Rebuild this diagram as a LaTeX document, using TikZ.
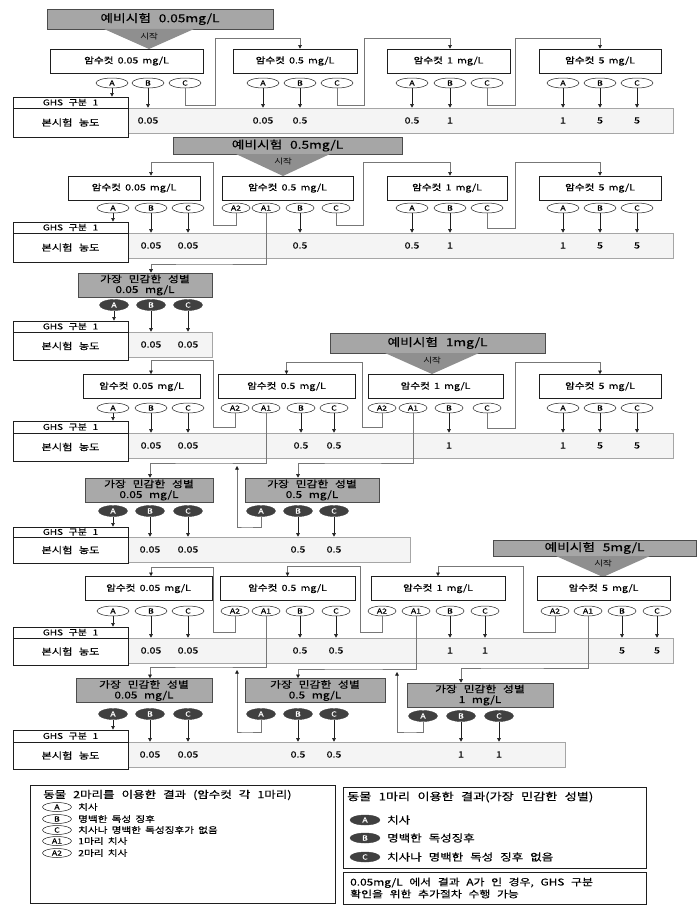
\documentclass[tikz,border=0pt]{standalone}
\usepackage{fontspec}
\setmainfont{Noto Sans CJK KR}[FakeStretch=1.25, WordSpace=2.5, FakeBold=0.3]
\newfontfamily\dosefont{Noto Sans CJK KR}[FakeStretch=1.25, WordSpace=1.75, FakeBold=0.3]
\usetikzlibrary{arrows.meta, shapes.geometric}
\definecolor{preGray}{HTML}{A6A6A6}
\definecolor{triGray}{HTML}{8F8F8F}
\definecolor{sensGray}{HTML}{A9A9A9}
\definecolor{stripFill}{HTML}{F4F4F4}
\definecolor{stripLine}{HTML}{A6A6A6}
\definecolor{jumpGray}{HTML}{777777}
\definecolor{ovalDark}{HTML}{404040}
\definecolor{lineInk}{HTML}{1E1E1E}
\newcommand{\fsz}[1]{\fontsize{#1}{#1}\selectfont}

\begin{document}
\begin{tikzpicture}[x=1pt, y=-1pt,
    pretest/.style={draw=black!70, fill=preGray, line width=0.6pt, inner sep=0pt, font=\fsz{11}},
    starttext/.style={inner sep=0pt, font=\fsz{7.5}, text=black!85},
    dosebox/.style={draw=lineInk, fill=white, line width=0.7pt, inner sep=0pt, minimum height=24pt, font=\dosefont\fsz{8.5}},
    ovalw/.style={ellipse, draw=lineInk, fill=white, line width=0.5pt, inner sep=0pt, minimum width=32pt, minimum height=10pt, font=\fsz{7}},
    ovaln/.style={ovalw, minimum width=28pt},
    ovald/.style={ellipse, draw=ovalDark, fill=ovalDark, text=white, inner sep=0pt, minimum width=29pt, minimum height=11pt, font=\fsz{7}},
    sensbox/.style={draw=black!70, fill=sensGray, line width=0.6pt, inner sep=0pt, minimum height=24pt, align=center, font=\fontsize{9.5}{10.5}\selectfont},
    ghsbox/.style={draw=lineInk, fill=white, line width=0.8pt, inner sep=0pt, minimum width=115pt},
    stripbox/.style={draw=stripLine, fill=stripFill, line width=0.6pt, inner sep=0pt, minimum height=25pt},
    valtext/.style={inner sep=0pt, font=\fsz{8.5}},
    arr/.style={draw=lineInk, line width=0.6pt, -{Triangle[length=3.6pt, width=3.6pt]}},
    jump/.style={draw=jumpGray, line width=0.5pt, -{Triangle[length=3.6pt, width=3.6pt, color=lineInk]}},
    legendbox/.style={draw=lineInk, line width=0.7pt, fill=white, inner sep=0pt},
    legendtext/.style={inner sep=0pt, anchor=west}
]
    \useasboundingbox (0,0) rectangle (696,907);

    % ---- pre-test 0.05 mg/L ----
    \node[pretest, minimum width=226pt, minimum height=20pt] (pre1) at (160,19) {예비시험 0.05mg/L};
    \fill[triGray] (104,29) -- (194,29) -- (149,49) -- cycle;
    \node[starttext] (start1) at (149,36) {시작};

    \node[stripbox, minimum width=545pt] (r1s) at (400.5,120.5) {};
    \node[ghsbox, minimum height=11pt, font=\fsz{8}] (r1gt) at (70.5,102.5) {GHS 구분 1};
    \node[ghsbox, minimum height=29pt, font=\fsz{9}] (r1gb) at (70.5,122.5) {본시험 농도};

    \node[dosebox, minimum width=153pt] (r1d1) at (126.5,61) {암수컷 0.05 mg/L};
    \node[dosebox, minimum width=124pt] (r1d2) at (295,61) {암수컷 0.5 mg/L};
    \node[dosebox, minimum width=123pt] (r1d3) at (448.5,61) {암수컷 1 mg/L};
    \node[dosebox, minimum width=122pt] (r1d4) at (600,61) {암수컷 5 mg/L};

    \node[ovalw] (r1d1a) at (112,83) {A};
    \node[ovalw] (r1d1b) at (148,83) {B};
    \node[ovalw] (r1d1c) at (185,83) {C};
    \node[ovalw] (r1d2a) at (263,83) {A};
    \node[ovalw] (r1d2b) at (300,83) {B};
    \node[ovalw] (r1d2c) at (337,83) {C};
    \node[ovalw] (r1d3a) at (412,83) {A};
    \node[ovalw] (r1d3b) at (450,83) {B};
    \node[ovalw] (r1d3c) at (487,83) {C};
    \node[ovalw] (r1d4a) at (563,83) {A};
    \node[ovalw] (r1d4b) at (600,83) {B};
    \node[ovalw] (r1d4c) at (637,83) {C};

    \draw[arr] (r1d1a.south) -- (r1d1a.south |- r1gt.north);
    \foreach \o in {r1d1b,r1d2a,r1d2b,r1d3a,r1d3b,r1d4a,r1d4b,r1d4c}
        \draw[arr] (\o.south) -- (\o.south |- r1s.north);
    \foreach \o/\v in {r1d1b/0.05,r1d2a/0.05,r1d2b/0.5,r1d3a/0.5,r1d3b/1,r1d4a/1,r1d4b/5,r1d4c/5}
        \node[valtext] (\o-v) at (\o |- r1s) {\v};
    \draw[jump] (r1d1c.south) |- (215,105) -- (215,38) -| (r1d2b |- r1d2.north);
    \draw[jump] (r1d2c.south) |- (364,105) -- (364,38) -| (r1d3b |- r1d3.north);
    \draw[jump] (r1d3c.south) |- (515,105) -- (515,38) -| (r1d4b |- r1d4.north);

    % ---- pre-test 0.5 mg/L ----
    \node[pretest, minimum width=229pt, minimum height=17pt] (pre2) at (287.5,145.5) {예비시험 0.5mg/L};
    \fill[triGray] (236,154) -- (330,154) -- (283,176) -- cycle;
    \node[starttext] (start2) at (283,161) {시작};

    \node[stripbox, minimum width=545pt] (r2s) at (400.5,245.5) {};
    \node[ghsbox, minimum height=11pt, font=\fsz{8}] (r2gt) at (70.5,227.5) {GHS 구분 1};
    \node[ghsbox, minimum height=29pt, font=\fsz{9}] (r2gb) at (70.5,247.5) {본시험 농도};

    \node[dosebox, minimum width=132pt] (r2d1) at (134,188) {암수컷 0.05 mg/L};
    \node[dosebox, minimum width=131pt] (r2d2) at (287.5,188) {암수컷 0.5 mg/L};
    \node[dosebox, minimum width=120pt] (r2d3) at (447,188) {암수컷 1 mg/L};
    \node[dosebox, minimum width=122pt] (r2d4) at (600,188) {암수컷 5 mg/L};

    \node[ovalw] (r2d1a) at (113,208) {A};
    \node[ovalw] (r2d1b) at (151,208) {B};
    \node[ovalw] (r2d1c) at (188,208) {C};
    \node[ovaln] (r2d2a2) at (236,208) {A2};
    \node[ovaln] (r2d2a1) at (266,208) {A1};
    \node[ovaln] (r2d2b) at (300,208) {B};
    \node[ovaln] (r2d2c) at (336,208) {C};
    \node[ovalw] (r2d3a) at (412,208) {A};
    \node[ovalw] (r2d3b) at (450,208) {B};
    \node[ovalw] (r2d3c) at (487,208) {C};
    \node[ovalw] (r2d4a) at (563,208) {A};
    \node[ovalw] (r2d4b) at (600,208) {B};
    \node[ovalw] (r2d4c) at (637,208) {C};

    \draw[arr] (r2d1a.south) -- (r2d1a.south |- r2gt.north);
    \foreach \o in {r2d1b,r2d1c,r2d2b,r2d3a,r2d3b,r2d4a,r2d4b,r2d4c}
        \draw[arr] (\o.south) -- (\o.south |- r2s.north);
    \foreach \o/\v in {r2d1b/0.05,r2d1c/0.05,r2d2b/0.5,r2d3a/0.5,r2d3b/1,r2d4a/1,r2d4b/5,r2d4c/5}
        \node[valtext] (\o-v) at (\o |- r2s) {\v};
    \draw[jump] (r2d2a2.south) |- (213,225) -- (213,162) -| (r2d1b |- r2d1.north);
    \draw[jump] (r2d2c.south) |- (363,225) -- (363,162) -| (r2d3b |- r2d3.north);
    \draw[jump] (r2d3c.south) |- (515,228) -- (515,162) -| (r2d4b |- r2d4.north);

    % ---- most sensitive sex 0.05 mg/L ----
    \node[sensbox, minimum width=134pt] (r3m) at (145,285) {가장 민감한 성별\\0.05 mg/L};
    \node[ovald] (r3ma) at (114,305) {A};
    \node[ovald] (r3mb) at (151,305) {B};
    \node[ovald] (r3mc) at (188,305) {C};
    \draw[jump] (r2d2a1.south) |- (200,264) -| (r3mb |- r3m.north);

    \node[stripbox, minimum width=84pt] (r3s) at (170,344.5) {};
    \node[ghsbox, minimum height=11pt, font=\fsz{8}] (r3gt) at (70.5,326.5) {GHS 구분 1};
    \node[ghsbox, minimum height=28pt, font=\fsz{9}] (r3gb) at (70.5,346) {본시험 농도};
    \draw[arr] (r3ma.south) -- (r3ma.south |- r3gt.north);
    \foreach \o in {r3mb,r3mc}
        \draw[arr] (\o.south) -- (\o.south |- r3s.north);
    \foreach \o/\v in {r3mb/0.05,r3mc/0.05}
        \node[valtext] (\o-v) at (\o |- r3s) {\v};

    % ---- pre-test 1 mg/L ----
    \node[pretest, minimum width=215pt, minimum height=20pt] (pre4) at (437.5,343) {예비시험 1mg/L};
    \fill[triGray] (385,353) -- (479,353) -- (432,374) -- cycle;
    \node[starttext] (start4) at (432,360) {시작};

    \node[stripbox, minimum width=545pt] (r4s) at (400.5,445.5) {};
    \node[ghsbox, minimum height=12pt, font=\fsz{8}] (r4gt) at (70.5,427) {GHS 구분 1};
    \node[ghsbox, minimum height=28pt, font=\fsz{9}] (r4gb) at (70.5,447) {본시험 농도};

    \node[dosebox, minimum width=117pt] (r4d1) at (141.5,386.5) {암수컷 0.05 mg/L};
    \node[dosebox, minimum width=137pt] (r4d2) at (286.5,386.5) {암수컷 0.5 mg/L};
    \node[dosebox, minimum width=135pt] (r4d3) at (435.5,386.5) {암수컷 1 mg/L};
    \node[dosebox, minimum width=122pt] (r4d4) at (600,386.5) {암수컷 5 mg/L};

    \node[ovalw] (r4d1a) at (113,408) {A};
    \node[ovalw] (r4d1b) at (151,408) {B};
    \node[ovalw] (r4d1c) at (188,408) {C};
    \node[ovaln] (r4d2a2) at (235,408) {A2};
    \node[ovaln] (r4d2a1) at (266,408) {A1};
    \node[ovaln] (r4d2b) at (301,408) {B};
    \node[ovaln] (r4d2c) at (334,408) {C};
    \node[ovaln] (r4d3a2) at (382,408) {A2};
    \node[ovaln] (r4d3a1) at (413,408) {A1};
    \node[ovaln] (r4d3b) at (449,408) {B};
    \node[ovaln] (r4d3c) at (487,408) {C};
    \node[ovalw] (r4d4a) at (563,408) {A};
    \node[ovalw] (r4d4b) at (600,408) {B};
    \node[ovalw] (r4d4c) at (637,408) {C};

    \draw[arr] (r4d1a.south) -- (r4d1a.south |- r4gt.north);
    \foreach \o in {r4d1b,r4d1c,r4d2b,r4d2c,r4d3b,r4d4a,r4d4b,r4d4c}
        \draw[arr] (\o.south) -- (\o.south |- r4s.north);
    \foreach \o/\v in {r4d1b/0.05,r4d1c/0.05,r4d2b/0.5,r4d2c/0.5,r4d3b/1,r4d4a/1,r4d4b/5,r4d4c/5}
        \node[valtext] (\o-v) at (\o |- r4s) {\v};
    \draw[jump] (r4d2a2.south) |- (213,427) -- (213,360) -| (r4d1b |- r4d1.north);
    \draw[jump] (r4d3a2.south) |- (362,427) -- (362,362) -| (r4d2.north);
    \draw[jump] (r4d3c.south) |- (515,428) -- (515,362) -| (r4d4b |- r4d4.north);

    % ---- most sensitive sex 0.05 / 0.5 mg/L ----
    \node[sensbox, minimum width=128pt] (r5a) at (149,490) {가장 민감한 성별\\0.05 mg/L};
    \node[sensbox, minimum width=134pt] (r5b) at (312,490) {가장 민감한 성별\\0.5 mg/L};
    \node[ovald] (r5aa) at (113,511) {A};
    \node[ovald] (r5ab) at (150,511) {B};
    \node[ovald] (r5ac) at (188,511) {C};
    \node[ovald] (r5ba) at (261,511) {A};
    \node[ovald] (r5bb) at (298,511) {B};
    \node[ovald] (r5bc) at (334,511) {C};
    \draw[jump] (r4d2a1.south) |- (200,463) -| (r5ab |- r5a.north);
    \draw[jump] (r4d3a1.south) |- (350,463) -| (r5bb |- r5b.north);
    \coordinate (r5back) at (237,466);
    \draw[jump] (r5ba.south) |- (245,527) -| (r5back);

    \node[stripbox, minimum width=282pt] (r5s) at (269,549.5) {};
    \node[ghsbox, minimum height=10pt, font=\fsz{8}] (r5gt) at (70.5,532) {GHS 구분 1};
    \node[ghsbox, minimum height=26pt, font=\fsz{9}] (r5gb) at (70.5,550) {본시험 농도};
    \draw[arr] (r5aa.south) -- (r5aa.south |- r5gt.north);
    \foreach \o in {r5ab,r5ac,r5bb,r5bc}
        \draw[arr] (\o.south) -- (\o.south |- r5s.north);
    \foreach \o/\v in {r5ab/0.05,r5ac/0.05,r5bb/0.5,r5bc/0.5}
        \node[valtext] (\o-v) at (\o |- r5s) {\v};

    % ---- pre-test 5 mg/L ----
    \node[pretest, minimum width=203pt, minimum height=16pt] (pre6) at (594.5,548) {예비시험 5mg/L};
    \fill[triGray] (556,556) -- (650,556) -- (603,577) -- cycle;
    \node[starttext] (start6) at (603,563) {시작};

    \node[stripbox, minimum width=545pt] (r6s) at (400.5,650.5) {};
    \node[ghsbox, minimum height=11pt, font=\fsz{8}] (r6gt) at (70.5,632.5) {GHS 구분 1};
    \node[ghsbox, minimum height=27pt, font=\fsz{9}] (r6gb) at (70.5,651.5) {본시험 농도};

    \node[dosebox, minimum width=127pt] (r6d1) at (148.5,588.5) {암수컷 0.05 mg/L};
    \node[dosebox, minimum width=135pt] (r6d2) at (287.5,588.5) {암수컷 0.5 mg/L};
    \node[dosebox, minimum width=134pt] (r6d3) at (438,588.5) {암수컷 1 mg/L};
    \node[dosebox, minimum width=133pt] (r6d4) at (603.5,588.5) {암수컷 5 mg/L};

    \node[ovalw] (r6d1a) at (113,611) {A};
    \node[ovalw] (r6d1b) at (151,611) {B};
    \node[ovalw] (r6d1c) at (188,611) {C};
    \node[ovaln] (r6d2a2) at (235,611) {A2};
    \node[ovaln] (r6d2a1) at (266,611) {A1};
    \node[ovaln] (r6d2b) at (300,611) {B};
    \node[ovaln] (r6d2c) at (336,611) {C};
    \node[ovaln] (r6d3a2) at (382,611) {A2};
    \node[ovaln] (r6d3a1) at (416,611) {A1};
    \node[ovaln] (r6d3b) at (450,611) {B};
    \node[ovaln] (r6d3c) at (485,611) {C};
    \node[ovaln] (r6d4a2) at (555,611) {A2};
    \node[ovaln] (r6d4a1) at (588,611) {A1};
    \node[ovaln] (r6d4b) at (622,611) {B};
    \node[ovaln] (r6d4c) at (657,611) {C};

    \draw[arr] (r6d1a.south) -- (r6d1a.south |- r6gt.north);
    \foreach \o in {r6d1b,r6d1c,r6d2b,r6d2c,r6d3b,r6d3c,r6d4b,r6d4c}
        \draw[arr] (\o.south) -- (\o.south |- r6s.north);
    \foreach \o/\v in {r6d1b/0.05,r6d1c/0.05,r6d2b/0.5,r6d2c/0.5,r6d3b/1,r6d3c/1,r6d4b/5,r6d4c/5}
        \node[valtext] (\o-v) at (\o |- r6s) {\v};
    \draw[jump] (r6d2a2.south) |- (213,632) -- (213,567) -| (r6d1b |- r6d1.north);
    \draw[jump] (r6d3a2.south) |- (360,632) -- (360,566) -| (r6d2.north);
    \draw[jump] (r6d4a2.south) |- (523,632) -- (523,566) -| (r6d3.north);

    % ---- most sensitive sex 0.05 / 0.5 / 1 mg/L ----
    \node[sensbox, minimum width=136pt] (r7a) at (144,690.5) {가장 민감한 성별\\0.05 mg/L};
    \node[sensbox, minimum width=140pt] (r7b) at (315,690.5) {가장 민감한 성별\\0.5 mg/L};
    \node[sensbox, minimum width=146pt] (r7c) at (480,695) {가장 민감한 성별\\1 mg/L};
    \node[ovald] (r7aa) at (113,714) {A};
    \node[ovald] (r7ab) at (150,714) {B};
    \node[ovald] (r7ac) at (188,714) {C};
    \node[ovald] (r7ba) at (261,714) {A};
    \node[ovald] (r7bb) at (298,714) {B};
    \node[ovald] (r7bc) at (334,714) {C};
    \node[ovald] (r7ca) at (423,716) {A};
    \node[ovald] (r7cb) at (461,716) {B};
    \node[ovald] (r7cc) at (499,716) {C};
    \draw[jump] (r6d2a1.south) |- (200,667) -| (r7ab |- r7a.north);
    \draw[jump] (r6d3a1.south) |- (350,669) -| (r7bb |- r7b.north);
    \draw[jump] (r6d4a1.south) |- (500,668) -| (r7cb |- r7c.north);
    \coordinate (r7backb) at (237,670);
    \coordinate (r7backc) at (397,672);
    \draw[jump] (r7ba.south) |- (245,732) -| (r7backb);
    \draw[jump] (r7ca.south) |- (410,732) -| (r7backc);

    \node[stripbox, minimum width=437pt] (r7s) at (346.5,754.5) {};
    \node[ghsbox, minimum height=12pt, font=\fsz{8}] (r7gt) at (70.5,736) {GHS 구분 1};
    \node[ghsbox, minimum height=27pt, font=\fsz{9}] (r7gb) at (70.5,755.5) {본시험 농도};
    \draw[arr] (r7aa.south) -- (r7aa.south |- r7gt.north);
    \foreach \o in {r7ab,r7ac,r7bb,r7bc,r7cb,r7cc}
        \draw[arr] (\o.south) -- (\o.south |- r7s.north);
    \foreach \o/\v in {r7ab/0.05,r7ac/0.05,r7bb/0.5,r7bc/0.5,r7cb/1,r7cc/1}
        \node[valtext] (\o-v) at (\o |- r7s) {\v};

    % ---- legends ----
    \node[legendbox, minimum width=305pt, minimum height=118pt] (lgl) at (182.5,844) {};
    \node[legendtext, font=\fsz{10}] (lglt) at (43,795) {동물 2마리를 이용한 결과 (암수컷 각 1마리)};
    \node[ovalw, minimum width=29pt, minimum height=9pt] (lgla) at (57,807) {A};
    \node[ovalw, minimum width=29pt, minimum height=9pt] (lglb) at (57,819) {B};
    \node[ovalw, minimum width=29pt, minimum height=9pt] (lglc) at (57,830) {C};
    \node[ovalw, minimum width=29pt, minimum height=9pt] (lgla1) at (57,841) {A1};
    \node[ovalw, minimum width=29pt, minimum height=9pt] (lgla2) at (57,853) {A2};
    \node[legendtext, font=\dosefont\fsz{8.5}] (lglat) at (78,807) {치사};
    \node[legendtext, font=\dosefont\fsz{8.5}] (lglbt) at (78,819) {명백한 독성 징후};
    \node[legendtext, font=\dosefont\fsz{8.5}] (lglct) at (78,830) {치사나 명백한 독성징후가 없음};
    \node[legendtext, font=\dosefont\fsz{8.5}] (lgla1t) at (78,841) {1마리 치사};
    \node[legendtext, font=\dosefont\fsz{8.5}] (lgla2t) at (78,853) {2마리 치사};

    \node[legendbox, minimum width=303pt, minimum height=81pt] (lgr) at (494.5,827.5) {};
    \node[legendtext, font=\fsz{10.5}] (lgrt) at (347,797) {동물 1마리 이용한 결과(가장 민감한 성별)};
    \node[ovald, minimum width=30pt, minimum height=10pt] (lgra) at (365,820) {A};
    \node[ovald, minimum width=30pt, minimum height=10pt] (lgrb) at (365,838) {B};
    \node[ovald, minimum width=30pt, minimum height=10pt] (lgrc) at (365,857) {C};
    \node[legendtext, font=\fsz{10}] (lgrat) at (387,820) {치사};
    \node[legendtext, font=\fsz{10}] (lgrbt) at (387,838) {명백한 독성징후};
    \node[legendtext, font=\fsz{10}] (lgrct) at (387,857) {치사나 명백한 독성 징후 없음};

    \node[legendbox, minimum width=303pt, minimum height=32pt] (lgn) at (494.5,888) {};
    \node[legendtext, align=left, font=\fontsize{9.5}{12}\selectfont] (lgnt) at (350,888) {0.05mg/L 에서 결과 A가 인 경우, GHS 구분\\확인을 위한 추가절차 수행 가능};
\end{tikzpicture}
\end{document}
